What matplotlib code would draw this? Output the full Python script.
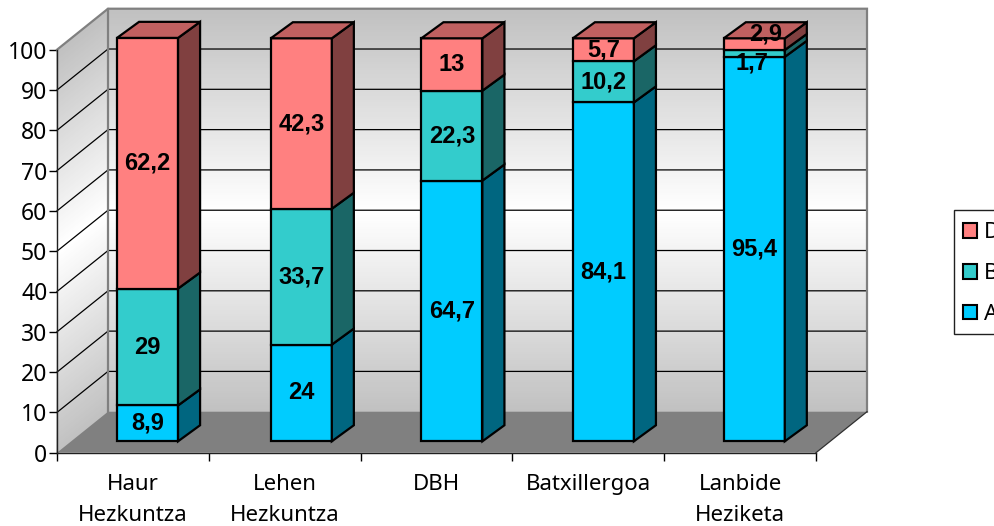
import numpy as np
import matplotlib
matplotlib.use("Agg")
import matplotlib.pyplot as plt
from matplotlib.patches import Polygon, Patch, Rectangle

categories = ["Haur\nHezkuntza", "Lehen\nHezkuntza", "DBH", "Batxillergoa", "Lanbide\nHeziketa"]
series_a = [8.9, 24, 64.7, 84.1, 95.4]
series_b = [29, 33.7, 22.3, 10.2, 1.7]
series_d = [62.2, 42.3, 13, 5.7, 2.9]
label_a = ["8,9", "24", "64,7", "84,1", "95,4"]
label_b = ["29", "33,7", "22,3", "10,2", "1,7"]
label_d = ["62,2", "42,3", "13", "5,7", "2,9"]
y_ticks = list(range(0, 101, 10))

FONT = "Noto Sans"
plt.rcParams["font.family"] = [FONT, "DejaVu Sans"]

W, H = 994, 526
fig = plt.figure(figsize=(W / 100, H / 100), dpi=100, facecolor="white")
ax = fig.add_axes([57 / W, (H - 452.7) / H, 759 / W, 403 / H])
ax.set_xlim(0, 5)
ax.set_ylim(0, 100)
ax.patch.set_visible(False)

DX, DY = 0.336, 10.17          # full depth of the plot box, in data units
D0 = 0.278                     # front of the bars, as a share of depth
D1X, D1Y = 0.71, 0.67          # back of the bars, along x and along y
BAR_W = 0.402
bar_shift = [0.003, 0.016, 0.008, 0.006, 0.0]


def pr(x, y, d, dy=None):
    return (x + d * DX, y + (d if dy is None else dy) * DY)


def grey(v):
    """Wall shading: grey at top and bottom, white at mid height."""
    t = np.clip(np.abs(v - 50) / 50.0, 0, 1)
    return 1.0 - t * (1.0 - 0xC0 / 255)


# walls
levels = np.linspace(0, 100, 201)
centres = (levels[:-1] + levels[1:]) / 2
C = grey(centres)[:, None]
dep = np.array([0.0, 1.0])
Xl = np.array([[0 + d * DX for d in dep] for _ in levels])
Yl = np.array([[v + d * DY for d in dep] for v in levels])
ax.pcolormesh(Xl, Yl, C, cmap="gray", vmin=0, vmax=1, shading="flat", zorder=1,
              clip_on=False, edgecolors="face", linewidth=0.2)
Xb = np.array([[DX, 5 + DX] for _ in levels])
Yb = np.array([[v + DY, v + DY] for v in levels])
ax.pcolormesh(Xb, Yb, C, cmap="gray", vmin=0, vmax=1, shading="flat", zorder=1,
              clip_on=False, edgecolors="face", linewidth=0.2)

# floor
ax.add_patch(Polygon([pr(0, 0, 0), pr(5, 0, 0), pr(5, 0, 1), pr(0, 0, 1)],
                     closed=True, fc="#808080", ec="none", zorder=2, clip_on=False))

# grid lines
for v in y_ticks[1:-1]:
    ax.plot([0, DX, 5 + DX], [v, v + DY, v + DY], color="black", lw=0.9, zorder=3,
            clip_on=False, solid_joinstyle="miter")

# wall borders
ax.plot([0, DX, 5 + DX, 5 + DX], [100, 100 + DY, 100 + DY, DY], color="#808080", lw=1.6,
        zorder=3, clip_on=False, solid_joinstyle="miter")
ax.plot([DX, DX], [DY, 100 + DY], color="#808080", lw=1.6, zorder=3, clip_on=False)
ax.plot([5, 5 + DX], [0, DY], color="#303030", lw=0.9, zorder=3, clip_on=False)

# bars
face = {"A": "#00CCFF", "B": "#33CCCC", "D": "#FF8080"}
side = {"A": "#006680", "B": "#1A6666", "D": "#804040"}
top = {"D": "#C06060"}
z = 5
for i in range(len(categories)):
    x0 = i + 0.5 + bar_shift[i] - BAR_W / 2
    x1 = i + 0.5 + bar_shift[i] + BAR_W / 2
    b = 0.0
    for key, vals in (("A", series_a), ("B", series_b), ("D", series_d)):
        t = b + vals[i]
        kw = dict(closed=True, ec="black", lw=1.6, clip_on=False, joinstyle="miter")
        ax.add_patch(Polygon([pr(x0, b, D0), pr(x1, b, D0), pr(x1, t, D0), pr(x0, t, D0)],
                             fc=face[key], zorder=z, **kw))
        ax.add_patch(Polygon([pr(x1, b, D0), pr(x1, b, D1X, D1Y), pr(x1, t, D1X, D1Y), pr(x1, t, D0)],
                             fc=side[key], zorder=z, **kw))
        if key == "D":
            ax.add_patch(Polygon([pr(x0, t, D0), pr(x1, t, D0), pr(x1, t, D1X, D1Y), pr(x0, t, D1X, D1Y)],
                                 fc=top[key], zorder=z, **kw))
        b = t

# value labels (two were moved by hand in the original)
nudges = {(4, "D"): (0.072, 2.5), (4, "B"): (-0.015, -2.3)}
for i in range(len(categories)):
    b = 0.0
    for key, vals, labs in (("A", series_a, label_a), ("B", series_b, label_b), ("D", series_d, label_d)):
        nx, ny = nudges.get((i, key), (0, 0))
        px, py = pr(i + 0.5 + bar_shift[i] + nx, b + vals[i] / 2 + ny, D0)
        ax.text(px, py, labs[i], ha="center", va="center", fontsize=17, fontweight="bold",
                family="Liberation Sans", color="black", zorder=50, clip_on=False)
        b += vals[i]

# axes
for s in ("top", "right"):
    ax.spines[s].set_visible(False)
for s in ("left", "bottom"):
    ax.spines[s].set_color("#202020")
    ax.spines[s].set_linewidth(1.0)
    ax.spines[s].set_zorder(4)
ax.set_yticks(y_ticks)
ax.set_yticklabels([str(v) for v in y_ticks])
ax.tick_params(axis="y", length=6, width=1, labelsize=16.5, pad=1)
ax.set_xticks(range(len(categories) + 1))
ax.set_xticklabels([])
ax.set_xticks(np.arange(len(categories)) + 0.5, minor=True)
ax.set_xticklabels(categories, minor=True, fontsize=16, linespacing=1.62)
ax.tick_params(axis="x", which="minor", length=0, pad=15.5)
ax.tick_params(axis="x", which="major", length=6, width=1)

# legend (runs off the right edge of the picture)
fig.add_artist(Rectangle((954 / W, (H - 333.5) / H), 80 / W, 123.5 / H, transform=fig.transFigure,
                         fc="white", ec="#202020", lw=1.0, zorder=1))
handles = [Patch(fc=face[k], ec="black", lw=1.5) for k in ("D", "B", "A")]
fig.legend(handles, ["D", "B", "A"], loc="upper left", bbox_to_anchor=(963 / W, (H - 222.5) / H),
           frameon=False, fontsize=16, handlelength=0.62, handleheight=0.62, handletextpad=0.32,
           labelspacing=0.89, borderpad=0, borderaxespad=0)

fig.savefig("out.png", dpi=100, facecolor="white")
